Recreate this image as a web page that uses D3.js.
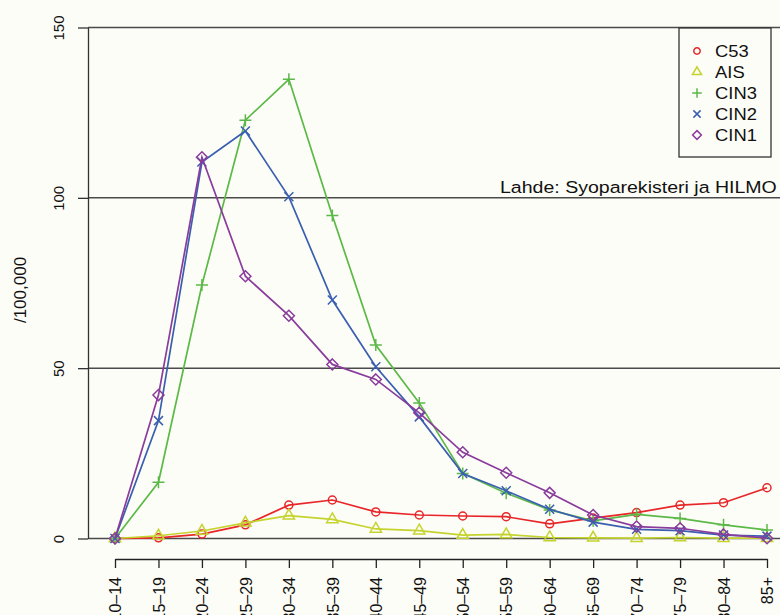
<!DOCTYPE html>
<html>
<head>
<meta charset="utf-8">
<script src="https://cdn.jsdelivr.net/npm/d3@7"></script>
<style>
  html, body { margin: 0; padding: 0; background: #fdfdf7; }
  svg { display: block; font-family: "Liberation Sans", Arial, sans-serif; }
</style>
</head>
<body>
<svg id="chart" width="780" height="615"></svg>
<script>
// age groups (x axis)
const ages = ["10–14", "15–19", "20–24", "25–29", "30–34", "35–39", "40–44", "45–49",
  "50–54", "55–59", "60–64", "65–69", "70–74", "75–79", "80–84", "85+"];

// incidence per 100,000
const c53  = [0, 0.2, 1.3, 4.0, 9.8, 11.3, 7.8, 6.9, 6.6, 6.4, 4.3, 6.0, 7.6, 9.8, 10.5, 14.9];
const ais  = [0, 0.8, 2.2, 4.6, 6.7, 5.6, 2.8, 2.3, 1.0, 1.2, 0.3, 0.2, 0.1, 0.3, 0.1, 0.1];
const cin3 = [0, 16.5, 74.4, 122.8, 134.8, 94.8, 56.8, 39.8, 19.1, 13.3, 8.4, 5.2, 7.1, 5.9, 4.0, 2.5];
const cin2 = [0, 34.6, 110.5, 119.6, 100.3, 70.0, 50.4, 35.7, 19.1, 14.0, 8.6, 4.8, 2.7, 2.3, 1.0, 0.7];
const cin1 = [0, 42.1, 111.9, 77.0, 65.4, 51.1, 46.7, 36.9, 25.3, 19.3, 13.4, 6.9, 3.5, 3.0, 1.2, 0.1];

const yTicks = [0, 50, 100, 150];
const source = "Lahde: Syoparekisteri ja HILMO";

const series = [
  { name: "C53",  values: c53,  color: "#e8262a", shape: "circle" },
  { name: "AIS",  values: ais,  color: "#c5d32e", shape: "triangle" },
  { name: "CIN3", values: cin3, color: "#5cb948", shape: "plus" },
  { name: "CIN2", values: cin2, color: "#3a5fb0", shape: "cross" },
  { name: "CIN1", values: cin1, color: "#8a3c9c", shape: "diamond" }
];

const svg = d3.select("#chart");
const W = 780;
const axisX = 88;

const x = d3.scalePoint().domain(ages).range([115, 767]);
const y = d3.scaleLinear().domain([0, 150]).range([538.5, 27.5]);

// horizontal grid lines
svg.append("g")
  .selectAll("line")
  .data(yTicks)
  .enter()
  .append("line")
  .attr("x1", axisX)
  .attr("x2", W)
  .attr("y1", d => y(d))
  .attr("y2", d => y(d))
  .attr("stroke", "#4a4a4a")
  .attr("stroke-width", 1.5);

// y axis
const gy = svg.append("g")
  .attr("transform", "translate(" + axisX + ",0)")
  .call(d3.axisLeft(y).tickValues(yTicks).tickSize(10).tickSizeOuter(0).tickPadding(0));
gy.select(".domain").attr("stroke", "#333").attr("stroke-width", 1.3);
gy.selectAll(".tick line").attr("stroke", "#333").attr("stroke-width", 1.3);
gy.selectAll(".tick text")
  .attr("x", null).attr("dy", null)
  .attr("text-anchor", "middle")
  .attr("transform", "translate(-29,0) rotate(-90)")
  .attr("y", 0)
  .attr("dy", "0.36em")
  .style("font-size", "15px")
  .attr("fill", "#111");

// x axis
const gx = svg.append("g")
  .attr("transform", "translate(0,559)")
  .call(d3.axisBottom(x).tickSize(9).tickSizeOuter(0));
gx.select(".domain").attr("stroke", "#222").attr("stroke-width", 1.3);
gx.selectAll(".tick line").attr("stroke", "#222").attr("stroke-width", 1.3);
gx.selectAll(".tick text")
  .attr("transform", "rotate(-90)")
  .attr("text-anchor", "end")
  .attr("x", -18)
  .attr("y", 0)
  .attr("dy", "0.36em")
  .style("font-size", "16px")
  .attr("fill", "#111");

// y label
svg.append("text")
  .attr("transform", "translate(20,290) rotate(-90)")
  .attr("text-anchor", "middle")
  .attr("dy", "0.36em")
  .style("font-size", "17px")
  .attr("fill", "#111")
  .text("/100,000");

// marker shapes
function marker(g, shape, color, s) {
  if (shape === "circle") {
    g.append("circle").attr("r", 4 * s);
  } else if (shape === "triangle") {
    g.append("path").attr("d", d3.symbol(d3.symbolTriangle, 55 * s * s)());
  } else if (shape === "plus") {
    g.append("path").attr("d", `M${-6 * s},0H${6 * s}M0,${-6 * s}V${6 * s}`);
  } else if (shape === "cross") {
    g.append("path").attr("d", `M${-4.5 * s},${-4.5 * s}L${4.5 * s},${4.5 * s}M${-4.5 * s},${4.5 * s}L${4.5 * s},${-4.5 * s}`);
  } else if (shape === "diamond") {
    g.append("path").attr("d", `M0,${-5.5 * s}L${5.5 * s},0L0,${5.5 * s}L${-5.5 * s},0Z`);
  }
  g.selectAll("*").attr("fill", "none").attr("stroke", color).attr("stroke-width", 1.5);
}

const line = d3.line()
  .x((d, i) => x(ages[i]))
  .y(d => y(d));

series.forEach(s => {
  const g = svg.append("g");
  g.append("path")
    .attr("d", line(s.values))
    .attr("fill", "none")
    .attr("stroke", s.color)
    .attr("stroke-width", 1.7);
  g.selectAll(".pt")
    .data(s.values)
    .enter()
    .append("g")
    .attr("transform", (d, i) => "translate(" + x(ages[i]) + "," + y(d) + ")")
    .each(function () { marker(d3.select(this), s.shape, s.color, 1); });
});

// source note
svg.append("text")
  .attr("transform", "translate(500,193) scale(1.15,1)")
  .style("font-size", "17px")
  .attr("fill", "#111")
  .text(source);

// legend
const lg = svg.append("g");
lg.append("rect")
  .attr("x", 679).attr("y", 28)
  .attr("width", 92).attr("height", 129)
  .attr("fill", "#fdfdf7")
  .attr("stroke", "#333")
  .attr("stroke-width", 1.3);
series.forEach((s, i) => {
  const yy = 51 + i * 21;
  const m = lg.append("g").attr("transform", "translate(697," + yy + ")");
  marker(m, s.shape, s.color, 0.8);
  lg.append("text")
    .attr("transform", "translate(715," + (yy + 6) + ") scale(1.15,1)")
    .style("font-size", "16px")
    .attr("fill", "#111")
    .text(s.name);
});
</script>
</body>
</html>
